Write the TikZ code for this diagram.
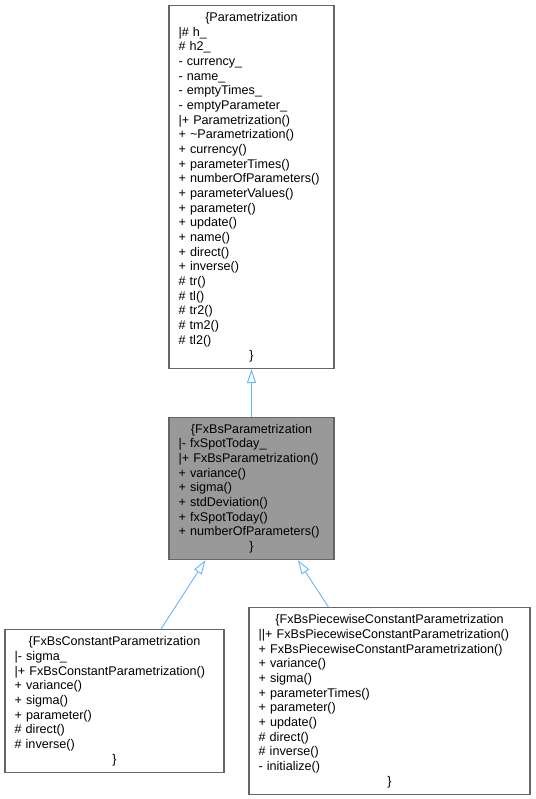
\documentclass[tikz,border=0pt]{standalone}
\usepackage{fontspec}
\setmainfont{Liberation Sans}
\usetikzlibrary{arrows.meta, positioning}
\setlength{\parindent}{0pt}
\definecolor{edgeblue}{HTML}{63B8FF}
\definecolor{boxgrey}{HTML}{666666}
\definecolor{basefill}{HTML}{999999}
\newcommand{\clstitle}[1]{\makebox[\hsize]{\{#1}}
\newcommand{\clsclose}{\makebox[\hsize]{\}}}
\tikzset{
    classbox/.style={rectangle, draw=boxgrey, line width=1.1pt, fill=white, align=left, inner xsep=9.5pt, inner ysep=0pt, font=\fontsize{12.6}{14.67}\selectfont},
    focusbox/.style={classbox, fill=basefill},
    inherit/.style={draw=edgeblue, line width=0.9pt, -{Triangle[open, length=14pt, width=9pt]}}
}
\begin{document}
\begin{tikzpicture}[x=1pt, y=1pt]
            \useasboundingbox[fill=white] (0,0) rectangle (535,-799);
            \node[classbox, text width=146pt, minimum height=363pt, anchor=north] (param) at (251.5,-5) {\clstitle{Parametrization}\\
                |\# h\_\\ \# h2\_\\ - currency\_\\ - name\_\\ - emptyTimes\_\\ - emptyParameter\_\\
                |+ Parametrization()\\ + \textasciitilde Parametrization()\\ + currency()\\ + parameterTimes()\\
                + numberOfParameters()\\ + parameterValues()\\ + parameter()\\ + update()\\ + name()\\
                + direct()\\ + inverse()\\ \# tr()\\ \# tl()\\ \# tr2()\\ \# tm2()\\ \# tl2()\\ \clsclose};
            \node[focusbox, text width=146pt, minimum height=142pt, below=48pt of param] (fxbs) {\clstitle{FxBsParametrization}\\
                |- fxSpotToday\_\\ |+ FxBsParametrization()\\ + variance()\\ + sigma()\\ + stdDeviation()\\
                + fxSpotToday()\\ + numberOfParameters()\\ \clsclose};
            \node[classbox, text width=200pt, minimum height=143pt, below=69pt of fxbs, xshift=-137pt] (fxbsconst) {\clstitle{FxBsConstantParametrization}\\
                |- sigma\_\\ |+ FxBsConstantParametrization()\\ + variance()\\ + sigma()\\ + parameter()\\
                \# direct()\\ \# inverse()\\ \clsclose};
            \node[classbox, text width=262pt, minimum height=187pt, below=47pt of fxbs, xshift=138pt] (fxbspw) {\clstitle{FxBsPiecewiseConstantParametrization}\\
                ||+ FxBsPiecewiseConstantParametrization()\\ + FxBsPiecewiseConstantParametrization()\\
                + variance()\\ + sigma()\\ + parameterTimes()\\ + parameter()\\ + update()\\
                \# direct()\\ \# inverse()\\ - initialize()\\ \clsclose};

            \path[inherit] (fxbs) -- (param);
            \path[inherit] (fxbsconst) -- (fxbs);
            \path[inherit] (fxbspw) -- (fxbs);
        \end{tikzpicture}
\end{document}
